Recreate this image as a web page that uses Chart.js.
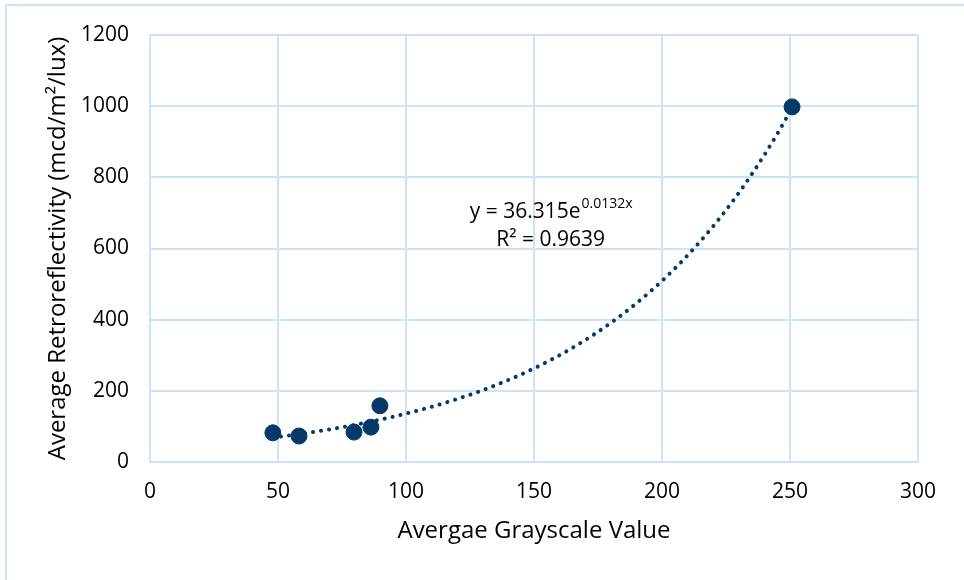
<!DOCTYPE html>
<html>
<head>
<meta charset="utf-8">
<script src="https://cdn.jsdelivr.net/npm/chart.js@4"></script>
<style>
  html, body { margin: 0; padding: 0; background: #fff; }
  #wrap { width: 964px; height: 580px; position: relative; }
</style>
</head>
<body>
<div id="wrap"><canvas id="grayChart" width="964" height="580"></canvas></div>
<script>
// measured samples
var grayValues = [48, 58.2, 79.7, 86.3, 89.8, 250.8];
var retroValues = [82, 73, 84, 98, 158, 998];

// exponential trendline y = a * e^(b x)
var trendA = 36.315;
var trendB = 0.0132;
var trendR2 = 0.9639;

var xTicks = [0, 50, 100, 150, 200, 250, 300];
var yTicks = [0, 200, 400, 600, 800, 1000, 1200];

var navy = '#053a68';
var gridBlue = '#cbe3fb';
var fontFam = '"Open Sans", "Noto Sans", sans-serif';

// smooth curve through the fitted equation, from the first to the last sample
var trendPoints = [];
var xMin = Math.min.apply(null, grayValues), xMax = Math.max.apply(null, grayValues);
for (var i = 0; i <= 60; i++) {
  var x = xMin + (xMax - xMin) * i / 60;
  trendPoints.push({ x: x, y: trendA * Math.exp(trendB * x) });
}

var framePlugin = {
  id: 'frame',
  beforeDraw: function (chart) {
    var c = chart.ctx;
    c.save();
    c.strokeStyle = gridBlue;
    c.lineWidth = 2;
    c.beginPath();
    c.moveTo(6, 580); c.lineTo(6, 5); c.lineTo(964, 5);
    c.stroke();
    c.restore();
  }
};

var equationPlugin = {
  id: 'equation',
  afterDatasetsDraw: function (chart) {
    var c = chart.ctx;
    var sx = chart.scales.x, sy = chart.scales.y;
    var cx = sx.getPixelForValue(156.5);
    var y1 = sy.getPixelForValue(702);
    var y2 = sy.getPixelForValue(623);
    c.save();
    c.fillStyle = '#000';
    c.textBaseline = 'middle';
    var base = 'y = ' + trendA + 'e';
    var sup = String(trendB) + 'x';
    c.font = '21px ' + fontFam;
    var wBase = c.measureText(base).width;
    c.font = '14px ' + fontFam;
    var wSup = c.measureText(sup).width;
    var left = cx - (wBase + wSup) / 2;
    c.font = '21px ' + fontFam;
    c.textAlign = 'left';
    c.fillText(base, left, y1);
    c.font = '14px ' + fontFam;
    c.fillText(sup, left + wBase + 1, y1 - 8);
    c.font = '21px ' + fontFam;
    c.textAlign = 'center';
    c.fillText('R² = ' + trendR2, cx, y2);
    c.restore();
  }
};

function plainTick(v) { return String(v); }

var ctx = document.getElementById('grayChart').getContext('2d');
var grayChart = new Chart(ctx, {
  type: 'scatter',
  data: {
    datasets: [{
      label: 'Samples',
      data: grayValues.map(function (v, i) { return { x: v, y: retroValues[i] }; }),
      backgroundColor: navy,
      borderColor: navy,
      pointRadius: 8,
      pointHoverRadius: 8,
      order: 1
    }, {
      label: 'Expon.',
      type: 'line',
      data: trendPoints,
      borderColor: navy,
      borderWidth: 4,
      borderDash: [0.1, 8],
      borderCapStyle: 'round',
      pointRadius: 0,
      fill: false,
      tension: 0,
      order: 2
    }]
  },
  options: {
    responsive: false,
    animation: false,
    layout: { padding: { left: 44, top: 35, right: 46, bottom: 34 } },
    plugins: {
      legend: { display: false },
      tooltip: { enabled: false }
    },
    scales: {
      x: {
        type: 'linear',
        min: 0, max: 300,
        afterBuildTicks: function (s) { s.ticks = xTicks.map(function (v) { return { value: v }; }); },
        afterFit: function (s) { s.height = 84; },
        grid: { color: gridBlue, lineWidth: 2, drawTicks: false },
        border: { color: gridBlue, width: 2 },
        ticks: { color: '#000', padding: 17, font: { family: fontFam, size: 21 }, maxRotation: 0, callback: plainTick },
        title: { display: true, text: 'Avergae Grayscale Value', color: '#000', padding: 0,
                 font: { family: fontFam, size: 24 } }
      },
      y: {
        type: 'linear',
        min: 0, max: 1200,
        afterBuildTicks: function (s) { s.ticks = yTicks.map(function (v) { return { value: v }; }); },
        afterFit: function (s) { s.width = 106; },
        grid: { color: gridBlue, lineWidth: 2, drawTicks: false },
        border: { color: gridBlue, width: 2 },
        ticks: { color: '#000', padding: 21, font: { family: fontFam, size: 21 }, callback: plainTick },
        title: { display: true, text: 'Average Retroreflectivity (mcd/m²/lux)', color: '#000', padding: 0,
                 font: { family: fontFam, size: 24 } }
      }
    }
  },
  plugins: [framePlugin, equationPlugin]
});
</script>
</body>
</html>
